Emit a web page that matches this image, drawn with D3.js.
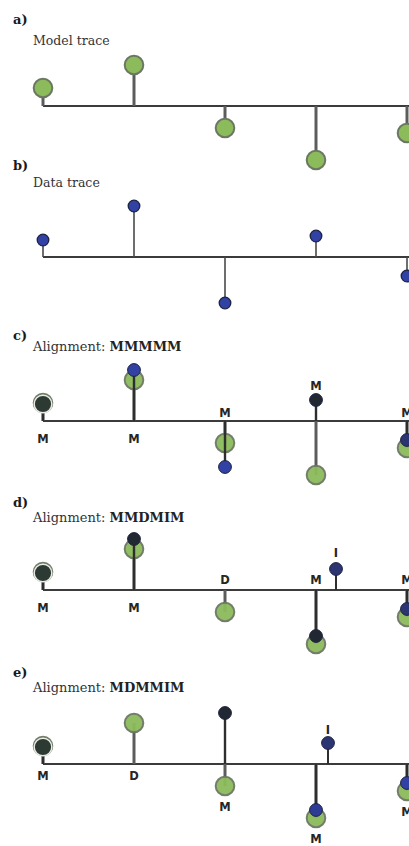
<!DOCTYPE html>
<html>
<head>
<meta charset="utf-8">
<script src="https://cdn.jsdelivr.net/npm/d3@7"></script>
<style>
  html, body { margin: 0; padding: 0; background: #ffffff; overflow: hidden; }
  svg { display: block; }
</style>
</head>
<body>
<div id="chart"></div>
<script>
// Trace values, one entry per time step
const steps = [0, 1, 2, 3, 4];
const modelValues = [18, 41, -22, -54, -27];
const dataValues = [17, 51, -46, 21, -19];

// Panel captions
const panelLetters = ["a)", "b)", "c)", "d)", "e)"];
const panelTitles = ["Model trace", "Data trace", "Alignment: ", "Alignment: ", "Alignment: "];

// Alignment strings (M = match, D = deletion, I = insertion)
const alignmentC = "MMMMM";
const alignmentD = "MMDMIM";
const alignmentE = "MDMMIM";

// Shade of each data mark, in alignment order
const shadeC = ["merged", "blue", "blue", "dark", "navy"];
const shadeD = ["merged", "dark", null, "dark", "navy", "navy"];
const shadeE = ["merged", null, "dark", "navyblue", "navy", "blue"];

const W = 409, H = 846;
const baselines = [106, 257, 421, 590, 764];
const letterY = [24, 170, 340, 507, 677];
const titleY = [45, 187, 351, 522, 692];

const colors = {
  green: "#8cbb5b", greenStroke: "#6c7763",
  blue: "#3141a4", navy: "#2b3572", navyblue: "#2e3c96", dark: "#222831",
  merged: "#2c3a33", dataStroke: "#1d2242",
  axis: "#3b3b3b", modelStem: "#5c5c5c", dataStem: "#2e2e2e", label: "#262626"
};

const svg = d3.select("#chart").append("svg").attr("width", W).attr("height", H);

const x = d3.scalePoint().domain(steps).range([43, 407]);

function yScale(base) {
  return d3.scaleLinear().domain([-60, 60]).range([base + 60, base - 60]);
}

const R_MODEL = 9.3, R_DATA = 5.8;

// Captions
svg.selectAll("text.letter").data(panelLetters).join("text")
  .attr("class", "letter")
  .attr("x", 13).attr("y", (d, i) => letterY[i])
  .attr("font-family", "DejaVu Serif").attr("font-weight", "bold")
  .attr("font-size", 13).attr("fill", "#1a1a1a").text(d => d);

const codes = [null, null, alignmentC, alignmentD, alignmentE];
panelTitles.forEach((t, i) => {
  const txt = svg.append("text").attr("x", 33).attr("y", titleY[i])
    .attr("font-family", "DejaVu Serif").attr("font-size", i < 2 ? 12.5 : 13)
    .attr("fill", "#333");
  txt.append("tspan").text(t);
  if (codes[i]) txt.append("tspan").attr("font-weight", "bold").attr("fill", "#222").text(codes[i]);
});

function baseline(g, base) {
  g.append("line").attr("x1", x(0)).attr("x2", W + 20)
    .attr("y1", base).attr("y2", base)
    .attr("stroke", colors.axis).attr("stroke-width", 2);
}

// a) model trace
{
  const base = baselines[0], y = yScale(base);
  const g = svg.append("g");
  baseline(g, base);
  g.selectAll("line.stem").data(steps).join("line").attr("class", "stem")
    .attr("x1", d => x(d)).attr("x2", d => x(d))
    .attr("y1", base).attr("y2", d => y(modelValues[d]))
    .attr("stroke", colors.modelStem).attr("stroke-width", 3);
  g.selectAll("circle").data(steps).join("circle")
    .attr("cx", d => x(d)).attr("cy", d => y(modelValues[d])).attr("r", R_MODEL)
    .attr("fill", colors.green).attr("stroke", colors.greenStroke).attr("stroke-width", 2);
}

// b) data trace
{
  const base = baselines[1], y = yScale(base);
  const g = svg.append("g");
  baseline(g, base);
  g.selectAll("line.stem").data(steps).join("line").attr("class", "stem")
    .attr("x1", d => x(d)).attr("x2", d => x(d))
    .attr("y1", base).attr("y2", d => y(dataValues[d]))
    .attr("stroke", "#4a4a4a").attr("stroke-width", 1.6);
  g.selectAll("circle").data(steps).join("circle")
    .attr("cx", d => x(d)).attr("cy", d => y(dataValues[d])).attr("r", R_DATA)
    .attr("fill", colors.blue).attr("stroke", colors.dataStroke).attr("stroke-width", 1.3);
}

// Walk an alignment string and pair model / data steps
function walk(ops) {
  let i = 0, j = 0;
  return Array.from(ops).map(op => {
    if (op === "M") return { op, slot: i, m: modelValues[i++], d: dataValues[j++] };
    if (op === "D") return { op, slot: i, m: modelValues[i++], d: null };
    return { op, slot: i - 1, insert: true, m: null, d: dataValues[j++] };
  });
}

function alignmentPanel(ops, shades, base, opts) {
  const y = yScale(base);
  const g = svg.append("g");
  const items = walk(ops).map((it, k) => ({
    ...it, shade: shades[k],
    cx: x(it.slot) + (it.insert ? opts.insertShift : 0)
  }));
  baseline(g, base);

  const withModel = items.filter(d => d.m !== null);
  const withData = items.filter(d => d.d !== null);

  g.selectAll("line.mstem").data(withModel).join("line").attr("class", "mstem")
    .attr("x1", d => d.cx).attr("x2", d => d.cx)
    .attr("y1", base).attr("y2", d => y(d.m))
    .attr("stroke", colors.modelStem).attr("stroke-width", 3);
  g.selectAll("circle.model").data(withModel).join("circle").attr("class", "model")
    .attr("cx", d => d.cx).attr("cy", d => y(d.m)).attr("r", R_MODEL)
    .attr("fill", colors.green).attr("stroke", colors.greenStroke).attr("stroke-width", 2)
    .attr("opacity", 0.95);
  g.selectAll("line.dstem").data(withData).join("line").attr("class", "dstem")
    .attr("x1", d => d.cx).attr("x2", d => d.cx)
    .attr("y1", base).attr("y2", d => y(d.d))
    .attr("stroke", colors.dataStem).attr("stroke-width", d => d.insert ? 2 : 2.4);
  g.selectAll("circle.data").data(withData).join("circle").attr("class", "data")
    .attr("cx", d => d.cx).attr("cy", d => y(d.d))
    .attr("r", d => d.shade === "merged" ? R_MODEL - 0.5 : R_DATA + 0.6)
    .attr("fill", d => colors[d.shade])
    .attr("stroke", d => d.shade === "merged" ? "#e9ece6" : colors.dataStroke)
    .attr("stroke-width", d => d.shade === "merged" ? 1.4 : 1);

  // Operation labels
  g.selectAll("text.op").data(items).join("text").attr("class", "op")
    .attr("x", d => d.cx)
    .attr("y", d => {
      const vals = [d.m, d.d].filter(v => v !== null);
      const ups = vals.filter(v => v > 0), downs = vals.filter(v => v < 0);
      const rOf = v => (v === d.m ? R_MODEL : R_DATA);
      if (opts.side === "below" && !d.insert) {
        const low = downs.length ? d3.max(downs.map(v => y(v) + rOf(v))) : base;
        return low + opts.gap + 9;
      }
      if (!d.insert && downs.length === 0) return base + 22;
      const top = ups.length ? d3.min(ups.map(v => y(v) - rOf(v))) : base;
      return top - opts.gap + 4;
    })
    .attr("text-anchor", "middle")
    .attr("font-family", "DejaVu Sans").attr("font-weight", "bold").attr("font-size", 11.5)
    .attr("fill", colors.label).text(d => d.op);
}

alignmentPanel(alignmentC, shadeC, baselines[2], { insertShift: 20, side: "auto", gap: 8 });
alignmentPanel(alignmentD, shadeD, baselines[3], { insertShift: 20, side: "auto", gap: 10 });
alignmentPanel(alignmentE, shadeE, baselines[4], { insertShift: 12, side: "below", gap: 7 });
</script>
</body>
</html>
